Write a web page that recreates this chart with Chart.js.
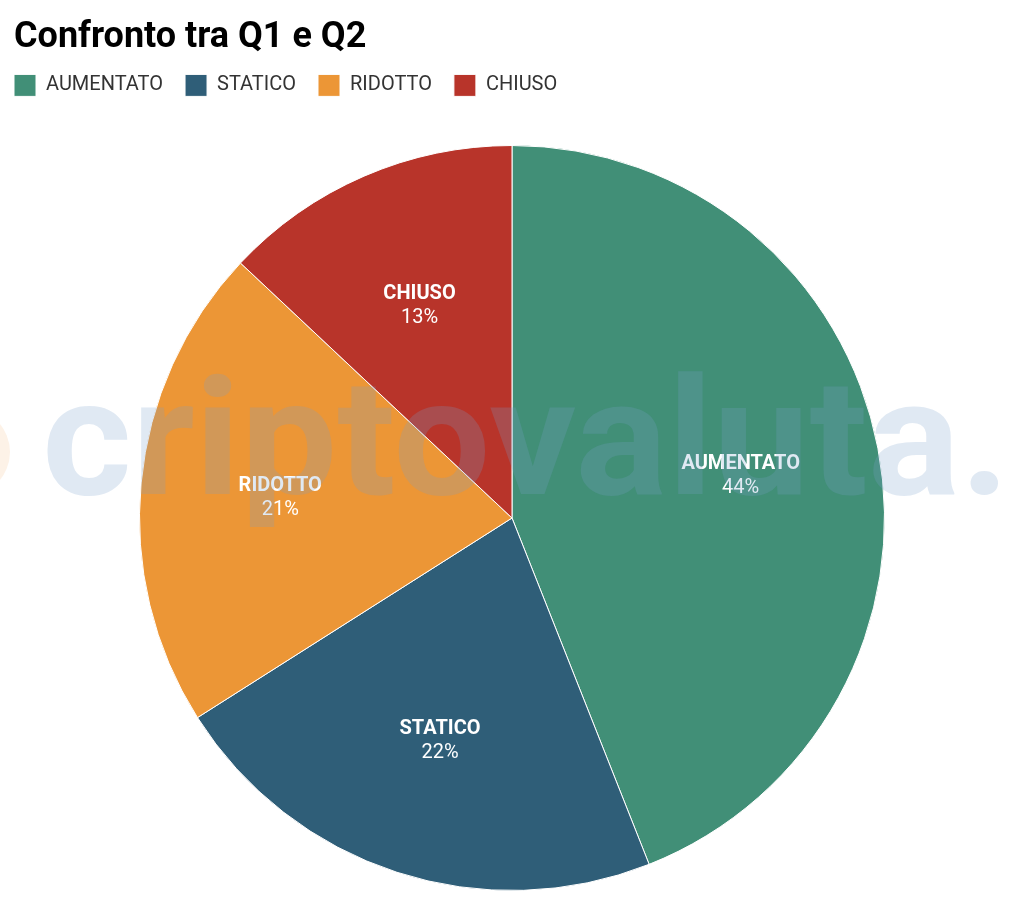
<!DOCTYPE html>
<html>
<head>
<meta charset="utf-8">
<script src="https://cdn.jsdelivr.net/npm/chart.js@4.4.1/dist/chart.umd.min.js"></script>
<style>
  html, body { margin: 0; padding: 0; background: #ffffff; }
  #wrap { width: 1024px; height: 905px; position: relative; }
</style>
</head>
<body>
<div id="wrap"><canvas id="c" width="1024" height="905"></canvas></div>
<script>
const titleText = 'Confronto tra Q1 e Q2';
const categories = ['AUMENTATO', 'STATICO', 'RIDOTTO', 'CHIUSO'];
const values = [44, 22, 21, 13];
const colors = ['#418f77', '#2f5e78', '#ec9636', '#b8342a'];
const watermarkText = 'criptovaluta.';

const sliceLabels = {
  id: 'sliceLabels',
  afterDatasetsDraw(chart) {
    const ctx = chart.ctx;
    const meta = chart.getDatasetMeta(0);
    const total = values.reduce((a, b) => a + b, 0);
    ctx.save();
    ctx.fillStyle = '#ffffff';
    ctx.textAlign = 'center';
    ctx.textBaseline = 'middle';
    meta.data.forEach((arc, i) => {
      const p = arc.getProps(['x', 'y', 'startAngle', 'endAngle', 'outerRadius'], true);
      const mid = (p.startAngle + p.endAngle) / 2;
      const r = p.outerRadius * 0.625;
      const x = p.x + Math.cos(mid) * r;
      const y = p.y + Math.sin(mid) * r + 2;
      ctx.font = 'bold 20px Roboto';
      ctx.fillText(categories[i], x, y - 12);
      ctx.font = '20px Roboto';
      ctx.fillText(Math.round(values[i] / total * 100) + '%', x, y + 12);
    });
    ctx.restore();
  }
};

const watermark = {
  id: 'watermark',
  afterDraw(chart) {
    const ctx = chart.ctx;
    ctx.save();
    ctx.fillStyle = 'rgba(236,150,54,0.12)';
    ctx.beginPath();
    ctx.arc(-34, 452, 44, 0, Math.PI * 2);
    ctx.fill();
    ctx.font = 'bold 163px Roboto';
    ctx.textBaseline = 'alphabetic';
    ctx.textAlign = 'left';
    const w = ctx.measureText(watermarkText).width;
    const target = 968;
    ctx.translate(42, 494);
    ctx.scale(target / w, 1);
    ctx.fillStyle = 'rgba(120,160,205,0.23)';
    ctx.fillText(watermarkText, 0, 0);
    ctx.restore();
  }
};

const shiftLegend = {
  id: 'shiftLegend',
  afterLayout(chart) {
    if (chart.legend) {
      chart.legend.left -= 22;
      if (chart.legend.adjustHitBoxes) chart.legend.adjustHitBoxes();
    }
  }
};

new Chart(document.getElementById('c'), {
  type: 'pie',
  data: {
    labels: categories,
    datasets: [{
      data: values,
      backgroundColor: colors,
      borderColor: '#ffffff',
      borderWidth: 1
    }]
  },
  options: {
    responsive: false,
    animation: false,
    devicePixelRatio: 1,
    layout: { padding: { left: 14, right: 14, top: 0, bottom: 14 } },
    plugins: {
      title: {
        display: true,
        text: titleText,
        align: 'start',
        color: '#000000',
        font: { family: 'Roboto', size: 36, weight: 'bold' },
        padding: { top: 16, bottom: -6.8 }
      },
      subtitle: {
        display: true,
        text: ' ',
        weight: 500,
        font: { size: 10 },
        padding: { top: 0, bottom: 26.6 }
      },
      legend: {
        display: true,
        position: 'top',
        align: 'start',
        labels: {
          boxWidth: 22,
          boxHeight: 22,
          padding: 22,
          color: '#333333',
          font: { family: 'Roboto', size: 20 }
        }
      },
      tooltip: { enabled: false }
    }
  },
  plugins: [shiftLegend, sliceLabels, watermark]
});
</script>
</body>
</html>
